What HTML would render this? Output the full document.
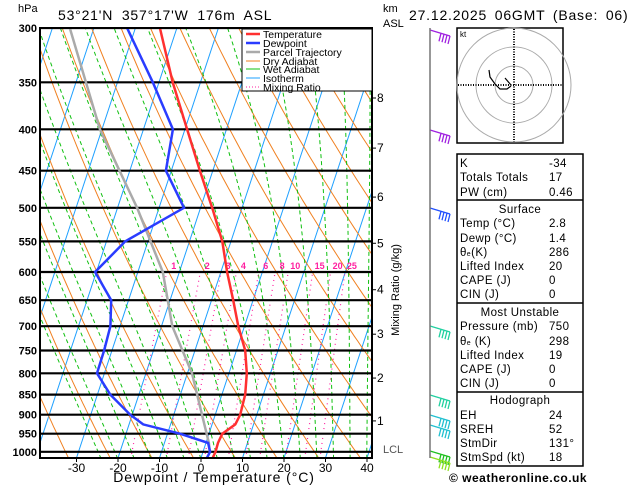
<!DOCTYPE html>
<html><head><meta charset="utf-8"><style>
body{margin:0;background:#fff;width:629px;height:486px;overflow:hidden;font-family:"Liberation Sans",sans-serif}
svg{position:absolute;left:0;top:0}
</style></head><body>
<svg id="c" width="629" height="486" xmlns="http://www.w3.org/2000/svg" font-family="Liberation Sans, DejaVu Sans, sans-serif">
<defs><clipPath id="pc"><rect x="40" y="28" width="332" height="430"/></clipPath></defs>
<g id="bg" clip-path="url(#pc)"></g>
<g id="fg"></g>
</svg>
<script>
const pressures=[300,350,400,450,500,550,600,650,700,750,800,850,900,925,950,975,1000,1018];
const tempC=[-44.1,-36.7,-29.5,-23.1,-17.2,-12.1,-8.5,-4.8,-1.5,2.1,4.3,5.6,6.0,5.6,3.2,2.9,3.0,2.8];
const dewC=[-52.0,-41.5,-32.9,-31.3,-24.0,-35.5,-40.3,-34.2,-32.3,-31.9,-31.8,-26.9,-20.5,-16.6,-7.0,0.5,1.7,1.4];
const parcelP=[300,400,500,600,700,800,900,975,1000];
const parcelC=[-65.8,-50.5,-35.3,-24.0,-17.4,-8.9,-3.2,0.7,1.6];
const pLevels=[300,350,400,450,500,550,600,650,700,750,800,850,900,950,1000];
const tTicks=[-30,-20,-10,0,10,20,30,40];
const mixRatios=[1,2,3,4,6,8,10,15,20,25];
const kmLabels=[8,7,6,5,4,3,2,1];
const kmPress=[366,422,485,553,631,716,811,916];

const NS="http://www.w3.org/2000/svg";
const bg=document.getElementById('bg'),fg=document.getElementById('fg');
function Y(p){return 28+352*Math.log(p/300);}
function X(t,p){return 201+4.15*t+0.33*(458-Y(p));}
function el(par,tag,a,txt){const e=document.createElementNS(NS,tag);for(const k in a)e.setAttribute(k,a[k]);if(txt!=null)e.textContent=txt;par.appendChild(e);return e;}
function poly(par,pts,st,name){const e=el(par,'polyline',Object.assign({points:pts.map(q=>q[0].toFixed(1)+','+q[1].toFixed(1)).join(' '),fill:'none'},st));

return e;}
const pArr=[];for(let p=300;p<=1020;p+=10)pArr.push(p);
for(let t=-120;t<=40;t+=10){poly(bg,[[X(t,1020),Y(1020)],[X(t,300),Y(300)]],{stroke:'#1ea0ff','stroke-width':1},'isotherm');}
for(let th=240;th<=460;th+=10){poly(bg,pArr.map(p=>[X(th*Math.pow(p/1000,0.286)-273.15,p),Y(p)]),{stroke:'#f08020','stroke-width':1},'dry-adiabat');}
function es(T){return 6.112*Math.exp(17.67*T/(T+243.5));}
for(let t0=-24;t0<=40;t0+=4){let T=t0+273.15,p=1020;const pts=[];
 while(p>=300){const Tc=T-273.15;const r=0.622*es(Tc)/(p-es(Tc));
  const d=(287*T/(p*1004))*(1+2.5e6*r/(287*T))/(1+2.5e6*2.5e6*r*0.622/(1004*287*T*T));
  pts.push([X(Tc,p),Y(p)]);T-=d*5;p-=5;}
 poly(bg,pts,{stroke:'#10c010','stroke-width':1,'stroke-dasharray':'4,3'},'wet-adiabat');}
function tw(w,p){const e=w*p/(622+w);const l=Math.log(e/6.112);return 243.5*l/(17.67-l);}
mixRatios.forEach(w=>{poly(bg,[[X(tw(w,1020),1020),Y(1020)],[X(tw(w,600),600),Y(600)]],{stroke:'#ff20a0','stroke-width':1.2,'stroke-dasharray':'1,4'},'mixing-ratio-line');
 const t=el(bg,'text',{x:X(tw(w,600),600)+7,y:Y(600)-3,'font-size':9,'font-weight':'bold',fill:'#ff20a0','text-anchor':'middle'},String(w));
 
 });
pLevels.forEach(p=>{poly(bg,[[40,Y(p)],[372,Y(p)]],{stroke:'#000','stroke-width':2.2},'isobar');});
poly(bg,parcelP.map((p,i)=>[X(parcelC[i],p),Y(p)]),{stroke:'#aaa','stroke-width':2.5},'parcel-trajectory');
poly(bg,pressures.map((p,i)=>[X(dewC[i],p),Y(p)]),{stroke:'#2a3cff','stroke-width':2.5},'dewpoint-line');
poly(bg,pressures.map((p,i)=>[X(tempC[i],p),Y(p)]),{stroke:'#ff3030','stroke-width':2.5},'temperature-line');
el(fg,'rect',{x:40,y:28,width:332,height:430,fill:'none',stroke:'#000','stroke-width':2});
pLevels.forEach(p=>{const t=el(fg,'text',{x:37,y:Y(p)+4,'font-size':11,'font-weight':'bold','text-anchor':'end'},String(p));
 
 });
tTicks.forEach(v=>{const x=201+4.15*v;el(fg,'line',{x1:x,x2:x,y1:458,y2:462,stroke:'#000'});
 const t=el(fg,'text',{x:x,y:472,'font-size':12,'text-anchor':'middle'},String(v));
 
 });
kmLabels.forEach((k,i)=>{const y=Y(kmPress[i]);el(fg,'line',{x1:372,x2:376,y1:y,y2:y,stroke:'#000'});
 const t=el(fg,'text',{x:377,y:y+4,'font-size':12},String(k));
 
 });
const barbs=[[30,'#a020e0'],[130,'#a020e0'],[208,'#2050ff'],[326,'#20d0a0'],[395,'#20d0a0'],[415,'#20c0d0'],[425,'#20c0d0'],[451,'#20c020'],[457,'#90e020']];
barbs.forEach(b=>{const g=el(fg,'g',{stroke:b[1],'stroke-width':1.3,fill:'none'});
 
 
 const y=b[0];el(g,'line',{x1:430,y1:y,x2:450,y2:y+6});
 for(let k=0;k<4;k++){const xx=450-k*3,yy=y+6-k*0.9;el(g,'line',{x1:xx,y1:yy,x2:xx-2,y2:yy+8});}});
</script>
<svg width="629" height="486" xmlns="http://www.w3.org/2000/svg" font-family="Liberation Sans, DejaVu Sans, sans-serif" style="pointer-events:none">
<text x="18" y="12" font-size="11">hPa</text>
<text x="58" y="20" font-size="14" letter-spacing="0.8" word-spacing="4">53°21'N  357°17'W  176m  ASL</text>
<text x="409" y="20" font-size="14" letter-spacing="0.8" word-spacing="3">27.12.2025  06GMT  (Base: 06)</text>
<text x="383" y="12" font-size="11">km</text>
<text x="383" y="27" font-size="11">ASL</text>
<text x="383" y="453" font-size="11" fill="#555">LCL</text>
<text transform="translate(399,290) rotate(-90)" font-size="11" text-anchor="middle">Mixing Ratio (g/kg)</text>
<text x="214" y="482" font-size="14" letter-spacing="0.9" text-anchor="middle">Dewpoint / Temperature (°C)</text>
<line x1="430" y1="28" x2="430" y2="458" stroke="#777" stroke-width="1.5"/>
<g>
<rect x="242" y="29" width="130" height="62" fill="#fff" stroke="#000"/>
<g font-size="10.5">
<line x1="246" y1="34" x2="260" y2="34" stroke="#ff3030" stroke-width="2.5"/><text x="263" y="38">Temperature</text>
<line x1="246" y1="43" x2="260" y2="43" stroke="#2a3cff" stroke-width="2.5"/><text x="263" y="47">Dewpoint</text>
<line x1="246" y1="52" x2="260" y2="52" stroke="#aaa" stroke-width="2.5"/><text x="263" y="56">Parcel Trajectory</text>
<line x1="246" y1="61" x2="260" y2="61" stroke="#f08020"/><text x="263" y="65">Dry Adiabat</text>
<line x1="246" y1="69" x2="260" y2="69" stroke="#10c010"/><text x="263" y="73">Wet Adiabat</text>
<line x1="246" y1="78" x2="260" y2="78" stroke="#1ea0ff"/><text x="263" y="82">Isotherm</text>
<line x1="246" y1="87" x2="260" y2="87" stroke="#ff20a0" stroke-dasharray="1,2"/><text x="263" y="91">Mixing Ratio</text>
</g></g>
<g>
<rect x="457" y="28" width="106" height="115" fill="#fff" stroke="#000" stroke-width="1.5"/>
<text x="460" y="37" font-size="8">kt</text>
<circle cx="514" cy="85" r="19" fill="none" stroke="#aaa"/>
<circle cx="514" cy="85" r="38" fill="none" stroke="#aaa"/>
<circle cx="514" cy="85" r="57" fill="none" stroke="#aaa"/>
<line x1="458" y1="85" x2="562" y2="85" stroke="#000" stroke-dasharray="1,1.5" stroke-width="2"/>
<line x1="514" y1="29" x2="514" y2="142" stroke="#000" stroke-dasharray="1,1.5" stroke-width="2"/>
<polyline points="489,70 490,77 495,84 500,89 507,89 511,86" fill="none" stroke="#000" stroke-width="1.2"/>
<line x1="511" y1="85" x2="505" y2="78" stroke="#000" stroke-width="1.2"/>
</g>
<g font-size="11.5" letter-spacing="0.4">
<rect x="457" y="154" width="126" height="312" fill="#fff" stroke="#000" stroke-width="1.5"/>
<line x1="457" y1="200" x2="583" y2="200" stroke="#000" stroke-width="1.5"/>
<line x1="457" y1="303" x2="583" y2="303" stroke="#000" stroke-width="1.5"/>
<line x1="457" y1="392" x2="583" y2="392" stroke="#000" stroke-width="1.5"/>
<text x="460" y="167">K</text><text x="549" y="167">-34</text>
<text x="460" y="181">Totals Totals</text><text x="549" y="181">17</text>
<text x="460" y="196">PW (cm)</text><text x="549" y="196">0.46</text>
<text x="520" y="213" text-anchor="middle">Surface</text>
<text x="460" y="227">Temp (°C)</text><text x="549" y="227">2.8</text>
<text x="460" y="242">Dewp (°C)</text><text x="549" y="242">1.4</text>
<text x="460" y="256">θ<tspan font-size="7">e</tspan>(K)</text><text x="549" y="256">286</text>
<text x="460" y="270">Lifted Index</text><text x="549" y="270">20</text>
<text x="460" y="284">CAPE (J)</text><text x="549" y="284">0</text>
<text x="460" y="298">CIN (J)</text><text x="549" y="298">0</text>
<text x="520" y="316" text-anchor="middle">Most Unstable</text>
<text x="460" y="330">Pressure (mb)</text><text x="549" y="330">750</text>
<text x="460" y="345">θ<tspan font-size="7">e</tspan> (K)</text><text x="549" y="345">298</text>
<text x="460" y="359">Lifted Index</text><text x="549" y="359">19</text>
<text x="460" y="373">CAPE (J)</text><text x="549" y="373">0</text>
<text x="460" y="387">CIN (J)</text><text x="549" y="387">0</text>
<text x="520" y="404" text-anchor="middle">Hodograph</text>
<text x="460" y="419">EH</text><text x="549" y="419">24</text>
<text x="460" y="433">SREH</text><text x="549" y="433">52</text>
<text x="460" y="447">StmDir</text><text x="549" y="447">131°</text>
<text x="460" y="461">StmSpd (kt)</text><text x="549" y="461">18</text>
</g>
<text x="449" y="482" font-size="12" font-weight="bold" letter-spacing="0.5">© weatheronline.co.uk</text>
</svg>
</body></html>
